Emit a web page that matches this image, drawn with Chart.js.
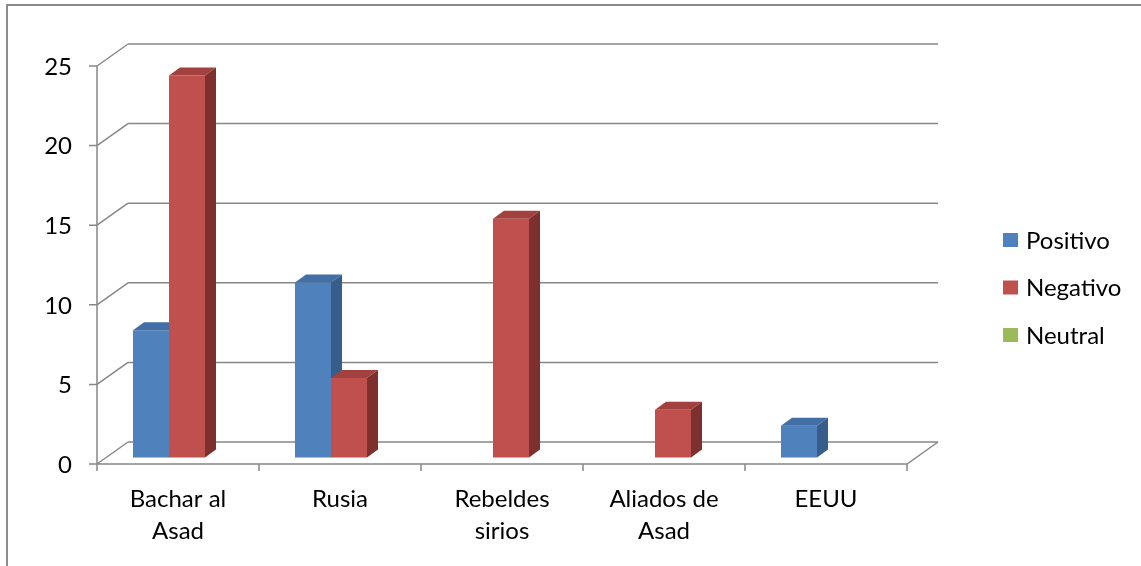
<!DOCTYPE html>
<html>
<head>
<meta charset="utf-8">
<script src="https://cdn.jsdelivr.net/npm/chart.js@4"></script>
<style>
  html, body { margin: 0; padding: 0; background: #fff; }
  canvas { display: block; }
</style>
</head>
<body>
<canvas id="chart" width="1141" height="566"></canvas>
<script>
// data
const categories = [['Bachar al', 'Asad'], 'Rusia', ['Rebeldes', 'sirios'], ['Aliados de', 'Asad'], 'EEUU'];
const positivo = [8, 11, 0, 0, 2];
const negativo = [24, 5, 15, 3, 0];
const neutral = [0, 0, 0, 0, 0];
const yTicks = [0, 5, 10, 15, 20, 25];
const seriesNames = ['Positivo', 'Negativo', 'Neutral'];

const FONT = '24px Lato, Carlito, "Open Sans", sans-serif';
const GRID = '#878787';
const WALL = { dx: 31, dy: -22 };   // depth of the back wall
const BAR_OFF = { dx: 9, dy: -6.5 }; // bar front plane behind the floor edge
const BAR_DEPTH = { dx: 11, dy: -8 };

const faces = [
    { front: '#4F81BD', top: '#416FA6', side: '#375D8B' },
    { front: '#C0504D', top: '#A2423F', side: '#7E302E' },
    { front: '#9BBB59', top: '#87A44B', side: '#6E8A3B' }
];

function poly(ctx, pts, color) {
    ctx.beginPath();
    ctx.moveTo(pts[0][0], pts[0][1]);
    for (let i = 1; i < pts.length; i++) ctx.lineTo(pts[i][0], pts[i][1]);
    ctx.closePath();
    ctx.fillStyle = color;
    ctx.fill();
}

const bar3d = {
    id: 'bar3d',
    beforeDraw(chart) {
        const ctx = chart.ctx;
        const xs = chart.scales.x, ys = chart.scales.y;
        const left = xs.left, right = xs.right;
        const y0 = ys.getPixelForValue(0);
        ctx.save();
        // outer frame
        ctx.strokeStyle = '#8c8c8c';
        ctx.lineWidth = 2;
        ctx.strokeRect(7, 5, 1200, 700);

        ctx.strokeStyle = GRID;
        ctx.lineWidth = 1.5;
        ctx.beginPath();
        // back wall gridlines + left wall diagonals + y ticks
        yTicks.forEach(v => {
            const y = ys.getPixelForValue(v);
            ctx.moveTo(left + WALL.dx, y + WALL.dy);
            ctx.lineTo(right + WALL.dx, y + WALL.dy);
            ctx.moveTo(left, y);
            ctx.lineTo(left + WALL.dx, y + WALL.dy);
            ctx.moveTo(left - 8, y);
            ctx.lineTo(left, y);
        });
        // y axis
        ctx.moveTo(left, ys.getPixelForValue(yTicks[yTicks.length - 1]));
        ctx.lineTo(left, y0);
        // floor front edge and right edge
        ctx.moveTo(left, y0);
        ctx.lineTo(right, y0);
        ctx.lineTo(right + WALL.dx, y0 + WALL.dy);
        // x ticks at category boundaries
        const step = (right - left) / categories.length;
        for (let i = 0; i <= categories.length; i++) {
            ctx.moveTo(left + i * step, y0);
            ctx.lineTo(left + i * step, y0 + 7);
        }
        ctx.stroke();

        // tick labels
        ctx.fillStyle = '#000';
        ctx.font = FONT;
        ctx.textAlign = 'right';
        ctx.textBaseline = 'middle';
        yTicks.forEach(v => ctx.fillText(String(v), left - 25, ys.getPixelForValue(v) + 1));
        ctx.textAlign = 'center';
        categories.forEach((c, i) => {
            const lines = Array.isArray(c) ? c : [c];
            const x = xs.getPixelForValue(i);
            lines.forEach((t, k) => ctx.fillText(t, x, y0 + 35 + k * 32));
        });

        // legend
        ctx.textAlign = 'left';
        seriesNames.forEach((n, k) => {
            const y = 240 + k * 47.5;
            ctx.fillStyle = faces[k].front;
            ctx.fillRect(1003, y - 7, 15, 14);
            ctx.fillStyle = '#000';
            ctx.fillText(n, 1026, y + 1);
        });
        ctx.restore();
    },
    beforeDatasetsDraw(chart) {
        const ctx = chart.ctx;
        const metas = chart.data.datasets.map((d, j) => chart.getDatasetMeta(j));
        for (let i = 0; i < categories.length; i++) {
            metas.forEach((meta, j) => {
                const value = chart.data.datasets[j].data[i];
                if (!value) return;
                const bar = meta.data[i];
                const p = bar.getProps(['x', 'y', 'base', 'width'], true);
                const x0 = p.x - p.width / 2, x1 = p.x + p.width / 2;
                const yt = p.y, yb = p.base;
                const dx = BAR_DEPTH.dx, dy = BAR_DEPTH.dy;
                ctx.save();
                ctx.translate(BAR_OFF.dx, BAR_OFF.dy);
                bar.draw(ctx);
                poly(ctx, [[x0, yt], [x1, yt], [x1 + dx, yt + dy], [x0 + dx, yt + dy]], faces[j].top);
                poly(ctx, [[x1, yt], [x1 + dx, yt + dy], [x1 + dx, yb + dy], [x1, yb]], faces[j].side);
                ctx.restore();
            });
        }
        return false;
    }
};

const ctx = document.getElementById('chart').getContext('2d');
new Chart(ctx, {
    type: 'bar',
    data: {
        labels: categories,
        datasets: [
            { label: seriesNames[0], data: positivo, backgroundColor: faces[0].front },
            { label: seriesNames[1], data: negativo, backgroundColor: faces[1].front },
            { label: seriesNames[2], data: neutral, backgroundColor: faces[2].front }
        ]
    },
    options: {
        responsive: false,
        animation: false,
        devicePixelRatio: 1,
        categoryPercentage: 0.667,
        barPercentage: 1,
        layout: { padding: { left: 97, right: 234, top: 66, bottom: 102 } },
        scales: {
            x: { display: false },
            y: { display: false, min: 0, max: 25 }
        },
        plugins: {
            legend: { display: false },
            tooltip: { enabled: false }
        }
    },
    plugins: [bar3d]
});
</script>
</body>
</html>
